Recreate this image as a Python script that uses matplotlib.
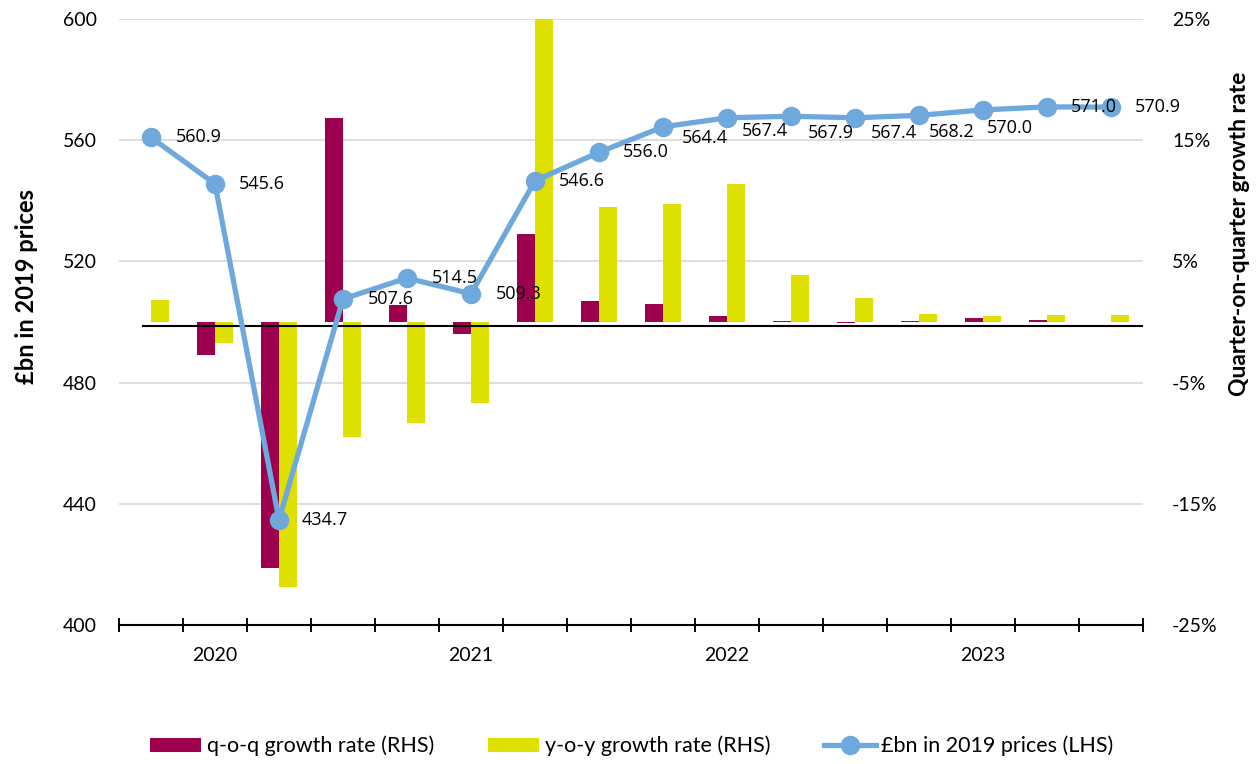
import matplotlib.pyplot as plt
from matplotlib.ticker import FixedLocator, FuncFormatter
import numpy as np

# quarterly data, 2020 Q1 - 2023 Q4
quarters = ["2020Q1", "2020Q2", "2020Q3", "2020Q4",
            "2021Q1", "2021Q2", "2021Q3", "2021Q4",
            "2022Q1", "2022Q2", "2022Q3", "2022Q4",
            "2023Q1", "2023Q2", "2023Q3", "2023Q4"]
years = ["2020", "2021", "2022", "2023"]
level = [560.9, 545.6, 434.7, 507.6, 514.5, 509.3, 546.6, 556.0,
         564.4, 567.4, 567.9, 567.4, 568.2, 570.0, 571.0, 570.9]
qoq = [0.0, -2.7, -20.3, 16.8, 1.4, -1.0, 7.3, 1.7,
       1.5, 0.5, 0.1, -0.1, 0.1, 0.3, 0.2, -0.02]
yoy = [1.8, -1.7, -21.9, -9.5, -8.3, -6.7, 25.7, 9.5,
       9.7, 11.4, 3.9, 2.0, 0.7, 0.5, 0.6, 0.6]

# label offsets in pixels (dx to left edge, dy downwards)
lab_dx = [25, 24, 23, 25, 25, 25, 24, 24, 19, 15, 17, 16, 10, 4, 24, 24]
lab_dy = [0, 0, 0, 0, 0, 0, 0, 0, 11, 13, 17, 15, 17, 18, 0, 0]

maroon = "#9E0050"
yellow = "#DEE000"
blue = "#6FA8DC"
grid_c = "#D9D9D9"

plt.rcParams['font.family'] = ['Lato', 'DejaVu Sans']

fig = plt.figure(figsize=(12.58, 7.64), dpi=100)
ax1 = fig.add_axes([119/1258, 1-625/764, 1024/1258, 606/764])
ax2 = ax1.twinx()
ax1.set_zorder(ax2.get_zorder() + 1)
ax1.patch.set_visible(False)

x = np.arange(len(quarters))
w = 0.28
b1 = ax2.bar(x - w/2, qoq, w, color=maroon, label="q-o-q growth rate (RHS)")
b2 = ax2.bar(x + w/2, yoy, w, color=yellow, label="y-o-y growth rate (RHS)")
ax2.axhline(-0.33, xmin=24/1024, xmax=1, color="black", lw=1.5, zorder=3)
ax2.set_ylim(-25, 25)
ax2.set_yticks([-25, -15, -5, 5, 15, 25])
ax2.yaxis.set_major_formatter(FuncFormatter(lambda v, p: f"{v:.0f}%"))
ax2.grid(axis="y", color=grid_c, lw=1.2)
ax2.set_axisbelow(True)
ax2.tick_params(axis="y", length=0, pad=21, labelsize=14)
for s in ax2.spines.values():
    s.set_visible(False)

ln, = ax1.plot(x, level, color=blue, lw=3.8, marker="o", ms=13,
               label="£bn in 2019 prices (LHS)", zorder=2)
for i, v in enumerate(level):
    ax1.annotate(f"{v:.1f}", (x[i], v), xytext=(lab_dx[i], -lab_dy[i]),
                 textcoords="offset pixels", ha="left", va="center",
                 fontsize=13, family="Open Sans", zorder=4)
ax1.set_ylim(400, 600)
ax1.set_yticks([400, 440, 480, 520, 560, 600])
ax1.tick_params(axis="y", length=0, pad=16, labelsize=14)
ax1.set_xlim(-0.5, 15.5)
ax1.xaxis.set_major_locator(FixedLocator(np.arange(-0.5, 16, 1)))
ax1.xaxis.set_major_formatter(FuncFormatter(lambda v, p: ""))
ax1.xaxis.set_minor_locator(FixedLocator(x[1::4]))
ax1.set_xticklabels(years, minor=True)
ax1.tick_params(axis="x", which="major", direction="inout", length=10,
                width=1.4, color="black")
ax1.tick_params(axis="x", which="minor", length=0, pad=16, labelsize=14)
for s in ["top", "left", "right"]:
    ax1.spines[s].set_visible(False)
ax1.spines["bottom"].set_linewidth(1.5)

fig.text(27/1258, 1-286/764, "£bn in 2019 prices", rotation=90,
         ha="center", va="center", fontsize=17, fontweight="bold")
fig.text(1240/1258, 1-234/764, "Quarter-on-quarter growth rate", rotation=90,
         ha="center", va="center", fontsize=16.5, fontweight="bold")

fig.legend(handles=[b1, b2, ln], loc="center", bbox_to_anchor=(0.502, 1-746/764),
           ncol=3, frameon=False, fontsize=15.5, handlelength=2.4,
           handleheight=0.65, handletextpad=0.25, columnspacing=2.5)

fig.savefig("out.png", dpi=100)
